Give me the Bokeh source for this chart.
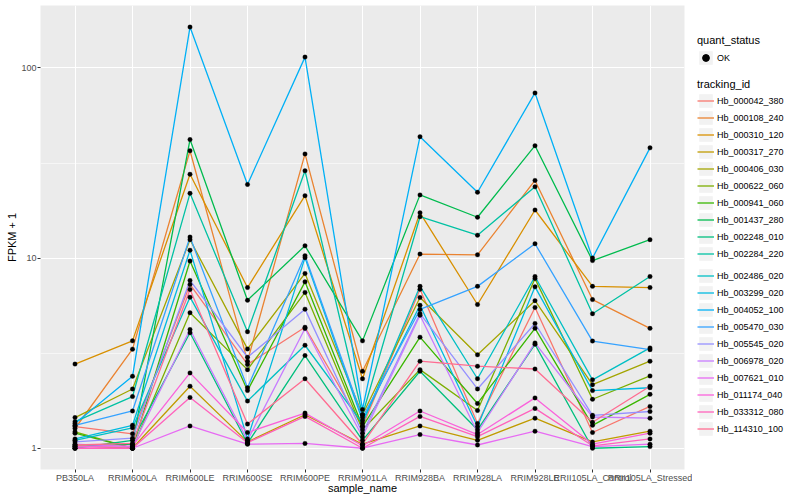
from bokeh.plotting import figure
from bokeh.models import (Range1d, FixedTicker, NumeralTickFormatter, Legend, LegendItem)
from bokeh.layouts import row
from bokeh.embed import file_html
from bokeh.resources import INLINE

# ---------------- data ----------------
samples = ["PB350LA", "RRIM600LA", "RRIM600LE", "RRIM600SE", "RRIM600PE", "RRIM901LA",
           "RRIM928BA", "RRIM928LA", "RRIM928LE", "RRII105LA_Control", "RRII105LA_Stressed"]

tracking_ids = ["Hb_000042_380", "Hb_000108_240", "Hb_000310_120", "Hb_000317_270",
                "Hb_000406_030", "Hb_000622_060", "Hb_000941_060", "Hb_001437_280",
                "Hb_002248_010", "Hb_002284_220", "Hb_002486_020", "Hb_003299_020",
                "Hb_004052_100", "Hb_005470_030", "Hb_005545_020", "Hb_006978_020",
                "Hb_007621_010", "Hb_011174_040", "Hb_033312_080", "Hb_114310_100"]

colors = ["#F8766D", "#EA8331", "#D89000", "#C09B00", "#A3A500", "#7CAE00", "#39B600",
          "#00BB4E", "#00BF7D", "#00C1A3", "#00BFC4", "#00BAE0", "#00B0F6", "#35A2FF",
          "#9590FF", "#C77CFF", "#E76BF3", "#FA62DB", "#FF62BC", "#FF6C91"]

# FPKM + 1 per sample (order of `samples`)
hb_000042_380 = [1.30, 1.19, 7.27, 2.76, 4.33, 1.30, 6.85, 1.35, 5.50, 1.21, 1.66]
hb_000108_240 = [1.27, 3.32, 36.7, 2.87, 35.3, 2.54, 10.5, 10.4, 25.6, 6.05, 4.27]
hb_000310_120 = [2.77, 3.67, 27.6, 7.00, 21.3, 2.32, 17.3, 5.70, 17.9, 7.10, 7.00]
hb_000317_270 = [1.03, 1.00, 2.12, 1.08, 1.50, 1.05, 1.31, 1.10, 1.44, 1.08, 1.23]
hb_000406_030 = [1.45, 2.05, 12.5, 3.33, 8.30, 1.50, 6.20, 3.10, 5.97, 2.16, 2.87]
hb_000622_060 = [1.22, 1.00, 5.16, 2.59, 6.60, 1.25, 2.59, 1.58, 7.80, 1.81, 2.40]
hb_000941_060 = [1.20, 1.00, 9.65, 2.01, 7.50, 1.30, 3.84, 1.72, 4.27, 1.32, 1.92]
hb_001437_280 = [1.02, 1.05, 42.0, 6.00, 11.6, 3.67, 21.5, 16.4, 39.0, 9.70, 12.5]
hb_002248_010 = [1.00, 1.10, 4.05, 1.06, 3.07, 1.10, 2.54, 1.25, 3.52, 1.00, 1.02]
hb_002284_220 = [1.38, 1.87, 21.9, 4.10, 28.8, 1.50, 16.5, 13.2, 23.7, 5.10, 8.00]
hb_002486_020 = [1.10, 1.28, 6.23, 1.77, 3.48, 1.35, 7.10, 2.32, 8.00, 2.29, 3.37]
hb_003299_020 = [1.12, 1.32, 11.0, 1.12, 10.05, 1.40, 5.65, 1.30, 7.06, 2.01, 2.08]
hb_004052_100 = [1.35, 2.39, 164.0, 24.4, 114.0, 1.60, 43.5, 22.2, 73.9, 10.0, 38.0]
hb_005470_030 = [1.32, 1.57, 12.9, 2.08, 10.3, 1.45, 5.37, 7.10, 11.9, 3.66, 3.30]
hb_005545_020 = [1.08, 1.13, 7.63, 3.01, 5.39, 1.20, 5.10, 2.05, 4.53, 1.49, 1.56]
hb_006978_020 = [1.05, 1.02, 4.21, 1.10, 4.26, 1.15, 5.00, 1.21, 3.58, 1.46, 1.44]
hb_007621_010 = [1.00, 1.00, 1.31, 1.05, 1.06, 1.00, 1.18, 1.04, 1.23, 1.02, 1.05]
hb_011174_040 = [1.02, 1.03, 2.49, 1.21, 1.53, 1.03, 1.57, 1.18, 1.84, 1.05, 1.20]
hb_033312_080 = [1.00, 1.00, 1.85, 1.07, 1.47, 1.00, 1.47, 1.15, 1.62, 1.03, 1.12]
hb_114310_100 = [1.04, 1.06, 6.84, 1.34, 2.32, 1.05, 2.87, 2.70, 2.61, 1.37, 2.12]

series = [hb_000042_380, hb_000108_240, hb_000310_120, hb_000317_270, hb_000406_030,
          hb_000622_060, hb_000941_060, hb_001437_280, hb_002248_010, hb_002284_220,
          hb_002486_020, hb_003299_020, hb_004052_100, hb_005470_030, hb_005545_020,
          hb_006978_020, hb_007621_010, hb_011174_040, hb_033312_080, hb_114310_100]

y_ticks = [1, 10, 100]
y_minor = [10 ** 0.5, 10 ** 1.5]

FONT = "Liberation Sans"

# ---------------- main plot ----------------
positions = list(range(1, len(samples) + 1))

p = figure(width=692, height=500, x_range=Range1d(0.4, len(samples) + 0.6),
           y_range=Range1d(0.773, 213), y_axis_type="log",
           output_backend="svg", toolbar_location=None,
           min_border_left=40, min_border_right=8, min_border_top=5, min_border_bottom=31)

p.background_fill_color = "#EBEBEB"
p.border_fill_color = "white"
p.outline_line_color = None

for vals, col in zip(series, colors):
    p.line(x=positions, y=vals, line_color=col, line_width=1.3)

px, py = [], []
for vals in series:
    px.extend(positions)
    py.extend(vals)
p.scatter(x=px, y=py, size=4.5, fill_color="black", line_color="black", line_width=0.3)

# axes
p.xaxis.ticker = FixedTicker(ticks=positions)
p.xaxis.major_label_overrides = {i: s for i, s in zip(positions, samples)}
p.yaxis.ticker = FixedTicker(ticks=y_ticks)
p.yaxis.formatter = NumeralTickFormatter(format="0")
p.xaxis.axis_label = "sample_name"
p.yaxis.axis_label = "FPKM + 1"
for ax in (p.xaxis, p.yaxis):
    ax.axis_line_color = None
    ax.major_tick_line_color = "#333333"
    ax.major_tick_out = 3
    ax.major_tick_in = 0
    ax.minor_tick_out = 0
    ax.minor_tick_in = 0
    ax.major_label_text_font = FONT
    ax.major_label_text_font_size = "9px"
    ax.major_label_text_color = "#4D4D4D"
    ax.major_label_standoff = 1
    ax.axis_label_text_font = FONT
    ax.axis_label_text_font_size = "11px"
    ax.axis_label_text_font_style = "normal"
    ax.axis_label_text_color = "black"
    ax.axis_label_standoff = 0
p.xaxis.major_label_standoff = 0
p.xaxis.axis_label_standoff = -4

# grid
p.xgrid.ticker = FixedTicker(ticks=positions)
p.xgrid.grid_line_color = "white"
p.xgrid.grid_line_width = 1.07
p.ygrid.ticker = FixedTicker(ticks=y_ticks, minor_ticks=y_minor)
p.ygrid.grid_line_color = "white"
p.ygrid.grid_line_width = 1.07
p.ygrid.minor_grid_line_color = "white"
p.ygrid.minor_grid_line_width = 0.55

# ---------------- legend panel ----------------
lg = figure(width=108, height=500, x_range=Range1d(0, 1), y_range=Range1d(0, 1),
            output_backend="svg", toolbar_location=None,
            x_axis_location=None, y_axis_location=None,
            min_border_left=0, min_border_right=0, min_border_top=0, min_border_bottom=0)
lg.grid.visible = False
lg.outline_line_color = None
lg.background_fill_color = "white"
lg.border_fill_color = "white"

# legend-only renderers (data kept outside the visible range)
key_bg = lg.quad(left=[5], right=[6], top=[6], bottom=[5],
                 fill_color="#F2F2F2", line_color=None)
ok_r = lg.scatter(x=[5], y=[5], size=4.5, fill_color="black", line_color="black")
line_rs = [lg.line(x=[5, 6], y=[5, 5], line_color=c, line_width=1.3) for c in colors]


def style(leg):
    leg.padding = 0
    leg.margin = 0
    leg.spacing = 0
    leg.glyph_width = 17
    leg.glyph_height = 17
    leg.label_height = 17
    leg.label_standoff = 3
    leg.label_text_font = FONT
    leg.label_text_font_size = "9px"
    leg.label_text_color = "black"
    leg.title_text_font = FONT
    leg.title_text_font_size = "11px"
    leg.title_text_font_style = "normal"
    leg.title_text_color = "black"
    leg.title_standoff = 3
    leg.border_line_color = None
    leg.background_fill_alpha = 0


leg_q = Legend(items=[LegendItem(label="OK", renderers=[key_bg, ok_r])],
               title="quant_status", location=(5, 403))
style(leg_q)
lg.add_layout(leg_q)

items = [LegendItem(label=t, renderers=[key_bg, r]) for t, r in zip(tracking_ids, line_rs)]
leg_a = Legend(items=items[:10], title="tracking_id", location=(5, 207))
style(leg_a)
leg_a.title_standoff = 2
lg.add_layout(leg_a)
leg_b = Legend(items=items[10:], location=(5, 32))
style(leg_b)
lg.add_layout(leg_b)

layout = row(p, lg)
open("out.html", "w").write(file_html(layout, INLINE))
